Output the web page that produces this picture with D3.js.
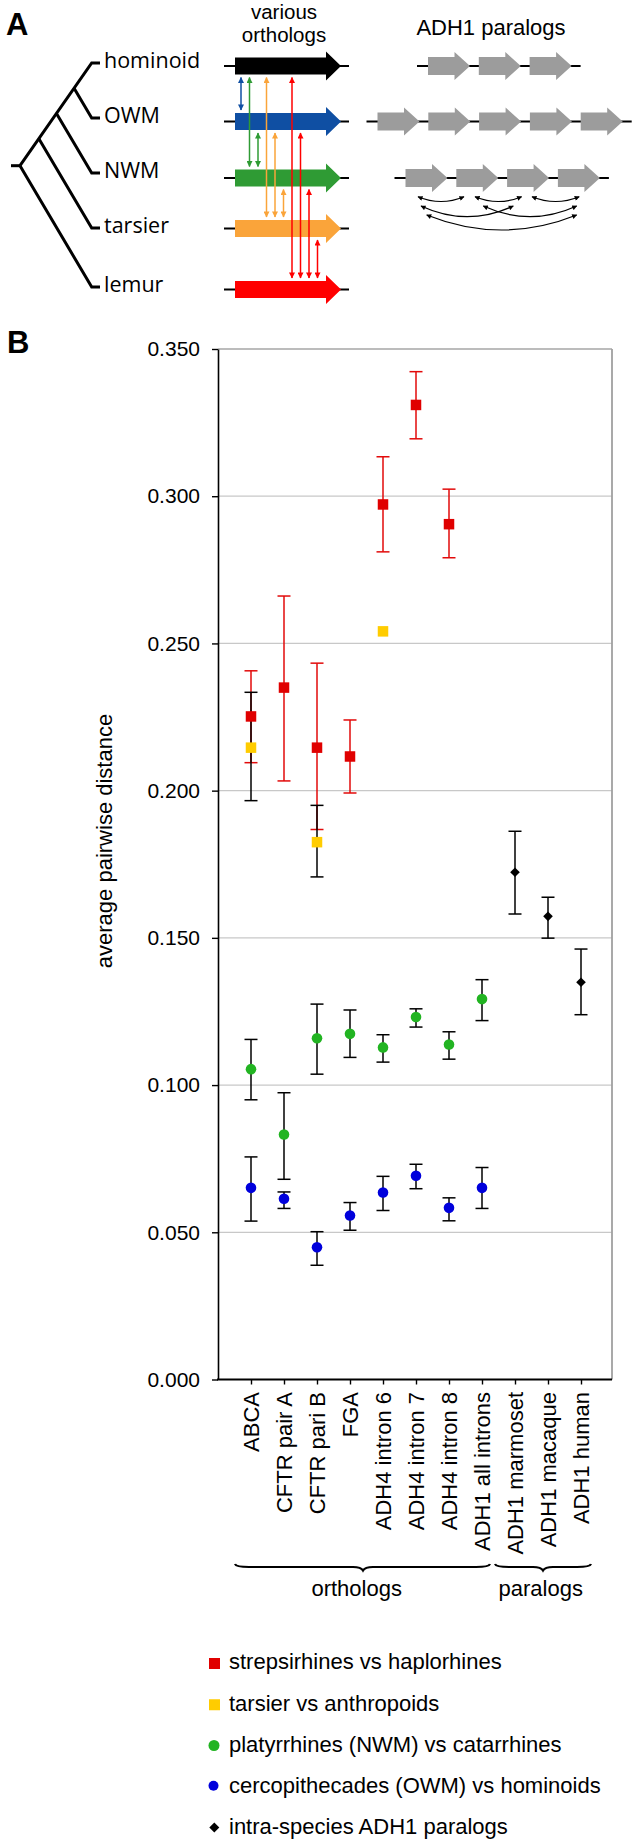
<!DOCTYPE html>
<html><head><meta charset="utf-8">
<script src="https://cdn.jsdelivr.net/npm/d3@7"></script>
<style>
body{margin:0;background:#fff;}
svg{display:block;font-family:"Liberation Sans",Arial,Helvetica,sans-serif;}
</style>
</head><body>
<svg id="c" width="641" height="1846"></svg>
<script>
// ---------------- DATA ----------------
const categories = ["ABCA","CFTR pair A","CFTR pari B","FGA","ADH4 intron 6","ADH4 intron 7","ADH4 intron 8","ADH1 all introns","ADH1 marmoset","ADH1 macaque","ADH1 human"];

const strepCats = ["ABCA","CFTR pair A","CFTR pari B","FGA","ADH4 intron 6","ADH4 intron 7","ADH4 intron 8"];
const strepVals = [0.2252,0.2350,0.2146,0.2116,0.2972,0.3310,0.2905];
const strepLow  = [0.2095,0.2033,0.1868,0.1992,0.2811,0.3195,0.2791];
const strepHigh = [0.2407,0.2661,0.2433,0.2240,0.3134,0.3423,0.3024];

const tarsCats = ["ABCA","CFTR pari B","ADH4 intron 6"];
const tarsVals = [0.2146,0.1825,0.2541];
const tarsLow  = [0.1966,0.1707,null];
const tarsHigh = [0.2334,0.1950,null];

const platCats = ["ABCA","CFTR pair A","CFTR pari B","FGA","ADH4 intron 6","ADH4 intron 7","ADH4 intron 8","ADH1 all introns"];
const platVals = [0.1054,0.0832,0.1159,0.1174,0.1128,0.1231,0.1138,0.1292];
const platLow  = [0.0950,0.0680,0.1037,0.1094,0.1078,0.1197,0.1088,0.1219];
const platHigh = [0.1155,0.0974,0.1275,0.1255,0.1171,0.1259,0.1181,0.1358];

const cercCats = ["ABCA","CFTR pair A","CFTR pari B","FGA","ADH4 intron 6","ADH4 intron 7","ADH4 intron 8","ADH1 all introns"];
const cercVals = [0.0651,0.0614,0.0449,0.0557,0.0635,0.0692,0.0583,0.0651];
const cercLow  = [0.0538,0.0581,0.0388,0.0507,0.0574,0.0648,0.0539,0.0581];
const cercHigh = [0.0756,0.0637,0.0502,0.0601,0.0690,0.0731,0.0617,0.0720];

const paraCats = ["ADH1 marmoset","ADH1 macaque","ADH1 human"];
const paraVals = [0.1723,0.1573,0.1349];
const paraLow  = [0.1581,0.1499,0.1239];
const paraHigh = [0.1862,0.1638,0.1462];

const yTicks = [0,0.05,0.10,0.15,0.20,0.25,0.30,0.35];
const yTitle = "average pairwise distance";
const groupLabels = ["orthologs","paralogs"];
const legendLabels = ["strepsirhines vs haplorhines","tarsier vs anthropoids","platyrrhines (NWM) vs catarrhines","cercopithecades (OWM) vs hominoids","intra-species ADH1 paralogs"];

// Panel A schematic content
const taxa = ["hominoid","OWM","NWM","tarsier","lemur"];
const geneColors = ["#000000","#0f4fa3","#2f9b34","#faa43a","#ff0000"];
const compPairs = [[0,1],[0,2],[1,2],[0,3],[1,3],[2,3],[0,4],[1,4],[2,4],[3,4]];
const paralogCounts = [3,5,4];
const paralogArcs = [[0,1],[1,2],[2,3],[0,2],[1,3],[0,3]];

// ---------------- DRAW ----------------
const svg = d3.select("#c");
const FONT = '"Liberation Sans",Arial,Helvetica,sans-serif';

// ===== Panel A =====
const A = svg.append("g");
A.append("text").attr("x",6).attr("y",35).attr("font-size",31).attr("font-weight","bold").text("A");

// layout for schematic
const tipY  = [63,118,173,228,287];
const geneY = [66,121.5,178,228.5,289.5];
const tipX = 91.7, rootX = 20, rootY = 165.7;
const upSlope = (tipY[0]-rootY)/(tipX-rootX);
const dnSlope = (tipY[4]-rootY)/(tipX-rootX);
const tree = A.append("g").attr("fill","none").attr("stroke","#000").attr("stroke-width",3).attr("stroke-linejoin","miter");
tree.append("line").attr("x1",11).attr("x2",rootX).attr("y1",rootY).attr("y2",rootY);
tree.append("path").attr("d",`M${rootX},${rootY}L${tipX},${tipY[0]}L100,${tipY[0]}`);
tree.append("path").attr("d",`M${rootX},${rootY}L${tipX},${tipY[4]}L100,${tipY[4]}`);
[1,2,3].forEach(i=>{
  const T = tipY[i];
  const nx = (rootY - upSlope*rootX - T + dnSlope*tipX)/(dnSlope - upSlope);
  const ny = rootY + upSlope*(nx-rootX);
  tree.append("path").attr("d",`M${nx},${ny}L${tipX},${T}L100,${T}`);
});
A.selectAll("text.taxon").data(taxa).join("text").attr("class","taxon")
  .attr("x",104).attr("y",(d,i)=>tipY[i]+5)
  .attr("font-family",'"Open Sans",sans-serif').attr("font-size",21.5).text(d=>d);

// headings
A.append("text").attr("x",284).attr("y",19.3).attr("text-anchor","middle").attr("font-size",20.5).text("various");
A.append("text").attr("x",284).attr("y",42.4).attr("text-anchor","middle").attr("font-size",20.5).text("orthologs");
A.append("text").attr("x",491).attr("y",34.7).attr("text-anchor","middle").attr("font-size",22).text("ADH1 paralogs");

// ortholog gene arrows
function geneArrow(g,x0,len,headLen,cy,bodyH,headH,color){
  const xb = x0+len-headLen;
  g.append("path").attr("fill",color).attr("d",
    `M${x0},${cy-bodyH/2}L${xb},${cy-bodyH/2}L${xb},${cy-headH/2}L${x0+len},${cy}L${xb},${cy+headH/2}L${xb},${cy+bodyH/2}L${x0},${cy+bodyH/2}Z`);
}
taxa.forEach((t,i)=>{
  A.append("line").attr("x1",224).attr("x2",349).attr("y1",geneY[i]).attr("y2",geneY[i]).attr("stroke","#000").attr("stroke-width",2);
  geneArrow(A,235,106,15,geneY[i],17,29,geneColors[i]);
});

// vertical double arrows
const defs = svg.append("defs");
geneColors.forEach((c,i)=>{
  defs.append("marker").attr("id","ah"+i).attr("viewBox","0 0 10 10").attr("refX",9).attr("refY",5)
    .attr("markerWidth",6.5).attr("markerHeight",6).attr("markerUnits","userSpaceOnUse").attr("orient","auto-start-reverse")
    .append("path").attr("d","M0,0L10,5L0,10Z").attr("fill",c);
});
defs.append("marker").attr("id","ahk").attr("viewBox","0 0 10 10").attr("refX",9).attr("refY",5)
  .attr("markerWidth",6).attr("markerHeight",5).attr("markerUnits","userSpaceOnUse").attr("orient","auto-start-reverse")
  .append("path").attr("d","M0,0L10,5L0,10Z").attr("fill","#000");
compPairs.forEach(([a,b],k)=>{
  const xx = 241 + k*8.5;
  A.append("line").attr("x1",xx).attr("x2",xx).attr("y1",geneY[a]+11.5).attr("y2",geneY[b]-11.5)
    .attr("stroke",geneColors[b]).attr("stroke-width",1.5)
    .attr("marker-start",`url(#ah${b})`).attr("marker-end",`url(#ah${b})`);
});

// paralog arrays
const paraStart = [428,377.5,405.5];
const paraStep = 50.8;
paralogCounts.forEach((n,r)=>{
  const cy = geneY[r];
  const s = paraStart[r];
  const lastTip = s + (n-1)*paraStep + 42;
  A.append("line").attr("x1",s-11).attr("x2",lastTip+9).attr("y1",cy).attr("y2",cy).attr("stroke","#000").attr("stroke-width",2);
  d3.range(n).forEach(j=>geneArrow(A,s+j*paraStep,42,15.5,cy,18,28,"#9c9c9c"));
});
// arcs between NWM paralogs
const arcLayout = [
  {x1:418,x2:464,y:196.7,bot:201.5},
  {x1:475,x2:521.6,y:196.7,bot:201.5},
  {x1:532,x2:579.2,y:196.7,bot:201.5},
  {x1:421,x2:513.3,y:206,bot:216.7},
  {x1:483.3,x2:576.7,y:206,bot:216.7},
  {x1:426.7,x2:576.7,y:215,bot:230}
];
paralogArcs.forEach((p,k)=>{
  const L = arcLayout[k];
  const cy = 2*L.bot - L.y;
  A.append("path").attr("d",`M${L.x1},${L.y}Q${(L.x1+L.x2)/2},${cy} ${L.x2},${L.y}`)
    .attr("fill","none").attr("stroke","#000").attr("stroke-width",1.2)
    .attr("marker-start","url(#ahk)").attr("marker-end","url(#ahk)");
});

// ===== Panel B =====
svg.append("text").attr("x",7).attr("y",352.7).attr("font-size",31).attr("font-weight","bold").text("B");

const plotL = 218, plotR = 612;
const x = d3.scalePoint().domain(categories).range([251,581]);
const y = d3.scaleLinear().domain([0,0.35]).range([1379.5,349]);

// gridlines
svg.append("g").selectAll("line").data(yTicks.filter(t=>t>0)).join("line")
  .attr("x1",plotL).attr("x2",plotR).attr("y1",d=>y(d)).attr("y2",d=>y(d))
  .attr("stroke",d=>d===0.35?"#a6a6a6":"#c8c8c8").attr("stroke-width",1.3);
// right border
svg.append("line").attr("x1",plotR).attr("x2",plotR).attr("y1",y(0.35)).attr("y2",y(0))
  .attr("stroke","#a0a0a0").attr("stroke-width",1.8);

// y axis
const yAxis = svg.append("g").attr("transform",`translate(${plotL},0)`)
  .call(d3.axisLeft(y).tickValues(yTicks).tickFormat(d3.format(".3f")).tickSize(6).tickSizeOuter(0).tickPadding(12));
yAxis.select(".domain").attr("stroke","#000").attr("stroke-width",1.6);
yAxis.selectAll(".tick line").attr("stroke","#000").attr("stroke-width",1.4);
yAxis.selectAll(".tick text").attr("font-size",21).attr("font-family",FONT).attr("fill","#000");

// x axis
const xAxis = svg.append("g").attr("transform",`translate(0,${y(0)})`)
  .call(d3.axisBottom(x).tickSize(5).tickSizeOuter(0).tickFormat(""));
xAxis.select(".domain").remove();
xAxis.selectAll(".tick line").attr("stroke","#000").attr("stroke-width",1.4);
svg.append("line").attr("x1",plotL-1).attr("x2",plotR).attr("y1",y(0)).attr("y2",y(0)).attr("stroke","#000").attr("stroke-width",1.8);
svg.append("g").selectAll("text").data(categories).join("text")
  .attr("transform",d=>`translate(${x(d)+8},1392) rotate(-90)`)
  .attr("text-anchor","end").attr("font-size",22).text(d=>d);

// y title
svg.append("text").attr("transform","translate(112,841) rotate(-90)").attr("text-anchor","middle")
  .attr("font-size",22).text(yTitle);

// error bars
function errBars(cats,lo,hi,color){
  const g = svg.append("g").attr("stroke",color).attr("stroke-width",1.5).attr("fill","none");
  cats.forEach((c,i)=>{
    if(lo[i]==null) return;
    const cx = x(c);
    g.append("line").attr("x1",cx).attr("x2",cx).attr("y1",y(lo[i])).attr("y2",y(hi[i]));
    g.append("line").attr("x1",cx-6.5).attr("x2",cx+6.5).attr("y1",y(lo[i])).attr("y2",y(lo[i]));
    g.append("line").attr("x1",cx-6.5).attr("x2",cx+6.5).attr("y1",y(hi[i])).attr("y2",y(hi[i]));
  });
}
errBars(strepCats,strepLow,strepHigh,"#e20a0a");
errBars(tarsCats,tarsLow,tarsHigh,"#000");
errBars(platCats,platLow,platHigh,"#000");
errBars(cercCats,cercLow,cercHigh,"#000");
errBars(paraCats,paraLow,paraHigh,"#000");

const RED="#e00000", YEL="#ffcc00", GRN="#22b422", BLU="#0000dc";
function squares(cats,vals,color,s){
  svg.append("g").selectAll("rect").data(cats).join("rect")
    .attr("x",(d)=>x(d)-s/2).attr("y",(d,i)=>y(vals[i])-s/2).attr("width",s).attr("height",s).attr("fill",color);
}
function circles(cats,vals,color,r){
  svg.append("g").selectAll("circle").data(cats).join("circle")
    .attr("cx",d=>x(d)).attr("cy",(d,i)=>y(vals[i])).attr("r",r).attr("fill",color);
}
function diamonds(cats,vals,color,h){
  svg.append("g").selectAll("path").data(cats).join("path")
    .attr("d",(d,i)=>{const cx=x(d),cy=y(vals[i]);return `M${cx},${cy-h}L${cx+h},${cy}L${cx},${cy+h}L${cx-h},${cy}Z`;})
    .attr("fill",color);
}
squares(strepCats,strepVals,RED,10.5);
squares(tarsCats,tarsVals,YEL,10.5);
circles(platCats,platVals,GRN,5.3);
circles(cercCats,cercVals,BLU,5.3);
diamonds(paraCats,paraVals,"#000",4.8);

// braces
function brace(x0,x1,tip,yb){
  const d = `M${x0},${yb-3} Q${x0+1},${yb} ${x0+14},${yb} L${tip-10},${yb} Q${tip-2},${yb} ${tip},${yb+3.5} Q${tip+2},${yb} ${tip+10},${yb} L${x1-14},${yb} Q${x1-1},${yb} ${x1},${yb-3}`;
  svg.append("path").attr("d",d).attr("fill","none").attr("stroke","#000").attr("stroke-width",2.2);
}
brace(235,490,363,1567);
brace(495,591,543,1567);
svg.append("text").attr("x",356.7).attr("y",1596).attr("text-anchor","middle").attr("font-size",22).text(groupLabels[0]);
svg.append("text").attr("x",540.7).attr("y",1596).attr("text-anchor","middle").attr("font-size",22).text(groupLabels[1]);

// legend
const lg = svg.append("g");
legendLabels.forEach((t,i)=>{
  const by = 1669.3 + i*41.25;
  const my = by - 5.8;
  if(i===0) lg.append("rect").attr("x",209).attr("y",my-5.5).attr("width",11).attr("height",11).attr("fill",RED);
  if(i===1) lg.append("rect").attr("x",209).attr("y",my-5.5).attr("width",11).attr("height",11).attr("fill",YEL);
  if(i===2) lg.append("circle").attr("cx",214).attr("cy",my-0.5).attr("r",5.5).attr("fill",GRN);
  if(i===3) lg.append("circle").attr("cx",213.5).attr("cy",my-1.5).attr("r",5).attr("fill",BLU);
  if(i===4) lg.append("path").attr("d",`M214.3,${my-6}L219.3,${my-1}L214.3,${my+4}L209.3,${my-1}Z`).attr("fill","#000");
  lg.append("text").attr("x",229).attr("y",by).attr("font-size",22).text(t);
});
</script>
</body></html>
